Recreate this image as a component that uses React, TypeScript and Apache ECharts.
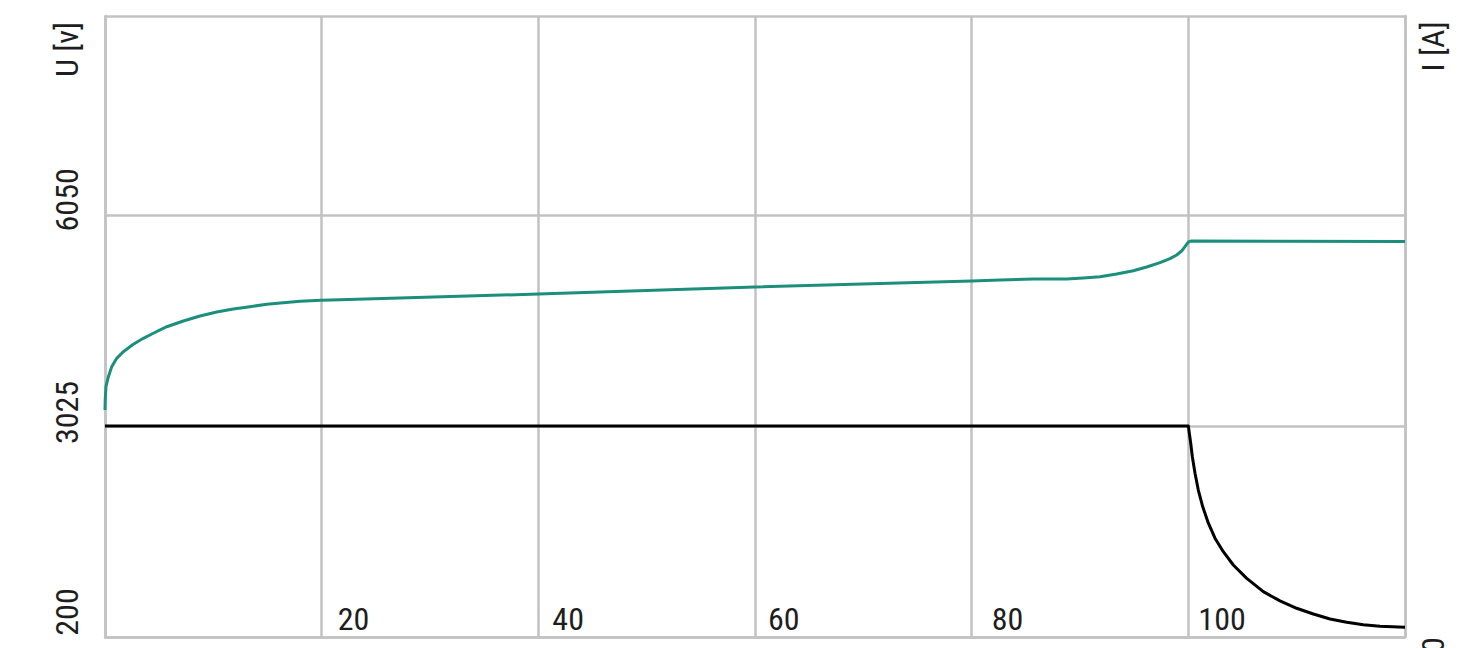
import React, { useEffect, useRef } from "react";
import * as echarts from "echarts";

// X axis (time) ticks that carry a label
const xLabelValues = [20, 40, 60, 80, 100];
const xLabelShift = [16, 14, 13, 20, 10];

// Left axis: tick values and their printed labels
const uTickValues = [0, 3025, 6050, 8900];
const uTickLabels = ["200", "3025", "6050", "U [v]"];

// Right axis: tick values and their printed labels
const iMax = 29.42;
const iTickLabels = ["0", "I [A]"];

// Voltage curve U (x, volts)
const uX = [
  0, 0.02, 0.09, 0.31, 0.62, 1.08, 1.69, 2.61, 3.54, 4.46, 5.7, 7.23, 8.77, 10.31, 11.84, 13.38,
  14.93, 16.46, 18.0, 19.94, 21.69, 40, 60, 80, 82.62, 85.69, 88.77, 90.31, 91.85, 93.38, 94.92,
  96.15, 97.38, 98.31, 98.92, 99.38, 99.69, 99.91, 100.06, 100.3, 120,
];
const uY = [
  3253, 3397, 3587, 3731, 3874, 3994, 4089, 4195, 4281, 4353, 4447, 4529, 4601, 4658, 4701, 4734,
  4768, 4791, 4811, 4826, 4834, 4915, 5016, 5102, 5117, 5131, 5131, 5145, 5164, 5203, 5250,
  5303, 5365, 5422, 5475, 5532, 5594, 5642, 5666, 5675, 5668,
];

// Current curve I (x, amps)
const iX = [
  0, 100, 100.09, 100.22, 100.37, 100.62, 100.92, 101.33, 101.85, 102.46, 103.23, 104.15, 105.39,
  106.92, 108.46, 110.0, 111.54, 113.08, 114.62, 116.15, 117.69, 120,
];
const iY = [
  10, 10, 9.65, 9.18, 8.54, 7.75, 6.96, 6.17, 5.39, 4.68, 4.04, 3.41, 2.78,
  2.15, 1.71, 1.36, 1.09, 0.85, 0.7, 0.58, 0.51, 0.46,
];

const FONT = "'Liberation Sans Narrow', 'Roboto Condensed', 'DejaVu Sans Condensed', Roboto, sans-serif";
const GRID = "#c2c2c2";
const TXT = "#1e1e1e";

export default function App() {
  const ref = useRef<HTMLDivElement>(null);
  useEffect(() => {
    if (!ref.current) return;
    const chart = echarts.init(ref.current, undefined, { renderer: "svg" });
    const base = { fontFamily: FONT, fontSize: 32, color: TXT };
    const xRich: any = {};
    xLabelValues.forEach((v, i) => {
      xRich["p" + v] = { ...base, padding: [0, 0, 0, xLabelShift[i]] };
    });
    const gl = { color: GRID, width: 2.5 };
    chart.setOption({
      animation: false,
      backgroundColor: "#ffffff",
      grid: {
        left: 105,
        right: 76,
        top: 16,
        bottom: 11,
        containLabel: false,
        outerBoundsMode: "none",
      },
      xAxis: {
        type: "value",
        min: 0,
        max: 120,
        interval: 20,
        axisLine: { show: true, lineStyle: gl },
        axisTick: { show: false },
        splitLine: { show: true, lineStyle: gl },
        axisLabel: {
          inside: true,
          margin: 2,
          align: "left",
          ...base,
          rich: xRich,
          formatter: (v: number) => (xLabelValues.includes(v) ? `{p${v}|${v}}` : ""),
        },
      },
      yAxis: [
        {
          type: "value",
          min: 0,
          max: uTickValues[3],
          interval: 3025,
          axisLine: { show: true, lineStyle: gl },
          axisTick: { show: false },
          splitLine: { show: true, lineStyle: gl },
          axisLabel: {
            rotate: 90,
            margin: 22,
            showMaxLabel: true,
            showMinLabel: true,
            ...base,
            rich: {
              a: { ...base, padding: [0, 0, 0, 50] },
              b: { ...base, padding: [0, 0, 0, 27] },
              c: { ...base, padding: [0, 0, 0, 30] },
              n: { ...base, padding: [0, 67, 0, 0] },
            },
            formatter: (v: number) => {
              const k = uTickValues.findIndex((t) => Math.abs(t - v) < 1e-6);
              if (k < 0) return "";
              const key = ["a", "b", "c", "n"][k];
              return `{${key}|${uTickLabels[k]}}`;
            },
          },
        },
        {
          type: "value",
          position: "right",
          min: 0,
          max: iMax,
          interval: 10,
          axisLine: { show: true, lineStyle: gl },
          axisTick: { show: false },
          splitLine: { show: false },
          axisLabel: {
            rotate: 90,
            margin: 12,
            showMaxLabel: true,
            showMinLabel: true,
            ...base,
            rich: {
              z: { ...base, padding: [0, 16, 0, 0] },
              n: { ...base, padding: [0, 61, 0, 0] },
            },
            formatter: (v: number) => {
              if (Math.abs(v) < 1e-6) return `{z|${iTickLabels[0]}}`;
              if (Math.abs(v - iMax) < 1e-6) return `{n|${iTickLabels[1]}}`;
              return "";
            },
          },
        },
      ],
      series: [
        {
          type: "line",
          yAxisIndex: 0,
          data: uX.map((x, i) => [x, uY[i]]),
          showSymbol: false,
          smooth: false,
          lineStyle: { color: "#1b8f7b", width: 3, join: "round" },
          z: 3,
        },
        {
          type: "line",
          yAxisIndex: 1,
          data: iX.map((x, i) => [x, iY[i]]),
          showSymbol: false,
          smooth: false,
          lineStyle: { color: "#000000", width: 3, join: "round" },
          z: 4,
        },
      ],
    });
    return () => chart.dispose();
  }, []);
  return (
    <div
      ref={ref}
      style={{ position: "absolute", left: 0, top: 0, width: 1481, height: 648 }}
    />
  );
}
